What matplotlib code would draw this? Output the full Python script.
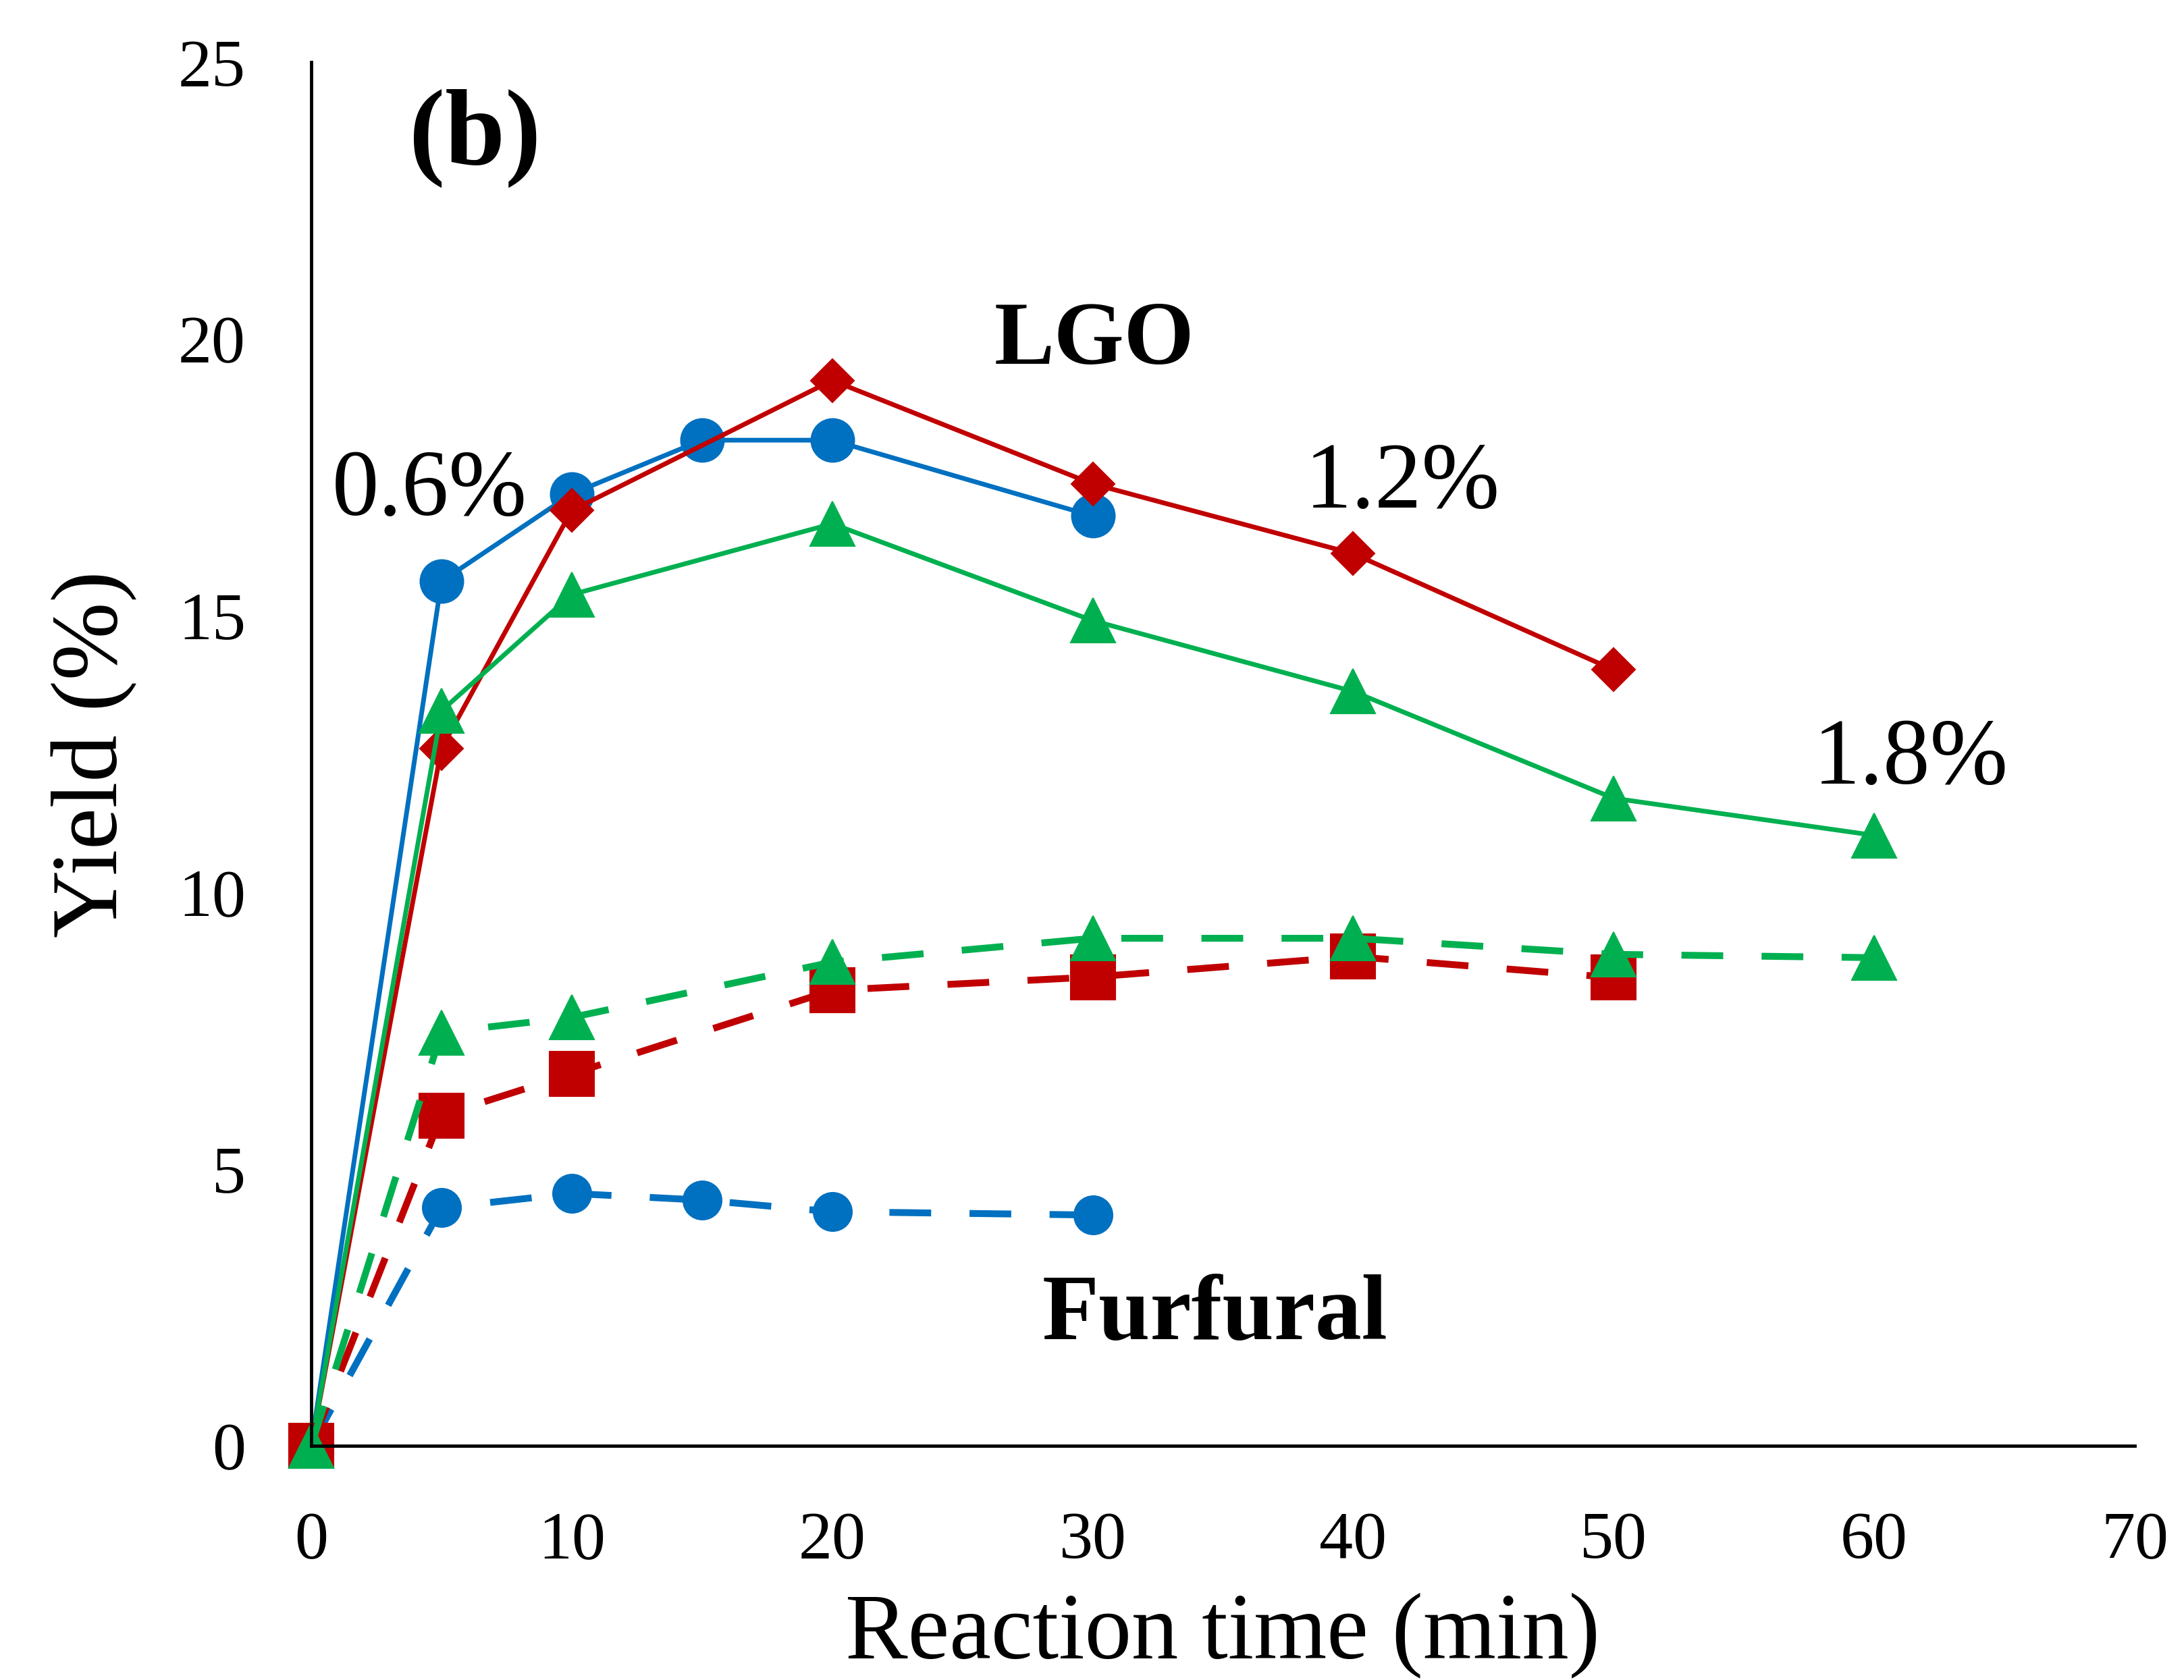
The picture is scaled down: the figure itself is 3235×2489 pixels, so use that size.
import numpy as np
import matplotlib.pyplot as plt

# reaction time (min)
t_06 = [0, 5, 10, 15, 20, 30]
t_12 = [0, 5, 10, 20, 30, 40, 50]
t_18 = [0, 5, 10, 20, 30, 40, 50, 60]

# LGO yield (%)
lgo_06 = [0, 15.62, 17.2, 18.17, 18.17, 16.8]
lgo_12 = [0, 12.6, 16.9, 19.25, 17.38, 16.12, 14.02]
lgo_18 = [0, 13.28, 15.38, 16.66, 14.91, 13.63, 11.7, 11.03]

# Furfural yield (%)
fur_06 = [0, 4.3, 4.56, 4.44, 4.23, 4.17]
fur_12 = [0, 5.97, 6.72, 8.23, 8.47, 8.84, 8.46]
fur_18 = [0, 7.47, 7.74, 8.74, 9.17, 9.17, 8.88, 8.82]

xticks = [0, 10, 20, 30, 40, 50, 60, 70]
yticks = [0, 5, 10, 15, 20, 25]

blue = '#0070C0'
red = '#C00000'
green = '#00B050'

plt.rcParams['font.family'] = ['Liberation Serif', 'DejaVu Serif']

fig = plt.figure(figsize=(32.35, 24.89), dpi=100, facecolor='w')
ax = fig.add_axes([0.1425, 0.1394, 0.9774 - 0.1425, 0.963 - 0.1394])

solid = dict(lw=5, clip_on=False, mew=1.5)
ax.plot(t_06, lgo_06, color=blue, marker='o', ms=46, mec=blue, **solid)
ax.plot(t_12, lgo_12, color=red, marker='D', ms=32.5, mec=red, **solid)
ax.plot(t_18, lgo_18, color=green, marker='^', ms=47, mec=green, **solid)

dashed = dict(lw=7.3, clip_on=False, mew=1.5, dashes=(6.1, 5.6), dash_capstyle='butt')
ax.plot(t_06, fur_06, color=blue, marker='o', ms=41, mec=blue, **dashed)
ax.plot(t_12, fur_12, color=red, marker='s', ms=47, mec=red, **dashed)
ax.plot(t_18, fur_18, color=green, marker='^', ms=47, mec=green, **dashed)

ax.set_xlim(0, 70)
ax.set_ylim(0, 25)
ax.set_xticks(xticks)
ax.set_yticks(yticks)
ax.tick_params(axis='both', length=0, labelsize=72)
ax.tick_params(axis='x', pad=70)
ax.tick_params(axis='y', pad=70)

ax.set_xlabel('Reaction time (min)', fontsize=100, va='center')
ax.set_ylabel('Yield (%)', fontsize=100, va='center')
ax.xaxis.set_label_coords(0.5, -0.1376)
ax.yaxis.set_label_coords(-0.119, 0.5)

for spine in ('top', 'right'):
    ax.spines[spine].set_visible(False)
ax.spines['left'].set_linewidth(3.5)
ax.spines['bottom'].set_linewidth(3.5)

ax.text(6.3, 23.15, '(b)', fontsize=115, fontweight='bold', ha='center', va='baseline')
ax.text(30.05, 19.55, 'LGO', fontsize=96, fontweight='bold', ha='center', va='baseline')
ax.text(34.7, 1.93, 'Furfural', fontsize=99, fontweight='bold', ha='center', va='baseline')
ax.text(4.55, 16.82, '0.6%', fontsize=100, ha='center', va='baseline')
ax.text(41.9, 16.95, '1.2%', fontsize=100, ha='center', va='baseline')
ax.text(61.4, 11.97, '1.8%', fontsize=100, ha='center', va='baseline')

plt.savefig('out.png', dpi=100)
